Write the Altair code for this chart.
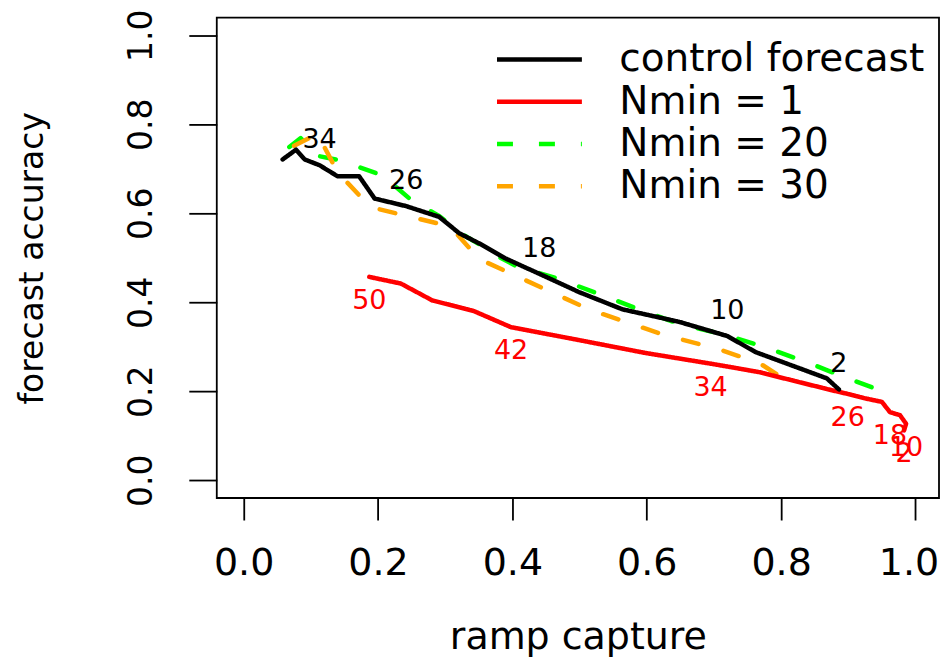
import altair as alt
import pandas as pd

# ---- data ----
series_names = ["control forecast", "Nmin = 1", "Nmin = 20", "Nmin = 30"]
series_colors = ["#000000", "#FF0000", "#00FF00", "#FFA500"]
series_dash = [[1, 0], [1, 0], [16, 26], [16, 26]]
tick_values = [0.0, 0.2, 0.4, 0.6, 0.8, 1.0]

ctrl_x = [0.058, 0.078, 0.091, 0.113, 0.140, 0.172, 0.195, 0.242, 0.291, 0.321,
          0.351, 0.389, 0.440, 0.499, 0.564, 0.648, 0.720, 0.762, 0.868, 0.886]
ctrl_y = [0.721, 0.743, 0.721, 0.708, 0.683, 0.683, 0.633, 0.616, 0.592, 0.555,
          0.532, 0.499, 0.464, 0.423, 0.384, 0.356, 0.324, 0.288, 0.229, 0.204]
ctrl_lab = ["", "", "", "34", "", "", "", "26", "", "",
            "", "", "18", "", "", "", "10", "", "", "2"]

n1_x = [0.187, 0.234, 0.281, 0.343, 0.398, 0.499, 0.598, 0.695, 0.722, 0.767,
        0.876, 0.899, 0.925, 0.950, 0.962, 0.977, 0.986, 0.983]
n1_y = [0.457, 0.442, 0.404, 0.380, 0.344, 0.315, 0.286, 0.262, 0.255, 0.243,
        0.202, 0.194, 0.184, 0.176, 0.153, 0.146, 0.127, 0.112]
n1_lab = ["50", "", "", "", "42", "", "", "34", "", "",
          "", "26", "", "", "18", "", "10", "2"]

n20_x = [0.068, 0.085, 0.107, 0.143, 0.207, 0.250, 0.292, 0.321, 0.351, 0.381,
         0.406, 0.470, 0.530, 0.592, 0.649, 0.719, 0.780, 0.842, 0.899, 0.935, 0.961]
n20_y = [0.749, 0.769, 0.730, 0.719, 0.685, 0.629, 0.593, 0.557, 0.530, 0.501,
         0.481, 0.452, 0.418, 0.382, 0.351, 0.326, 0.297, 0.263, 0.229, 0.209, 0.187]

n30_x = [0.075, 0.110, 0.140, 0.176, 0.202, 0.295, 0.310, 0.339, 0.348,
         0.514, 0.623, 0.708, 0.768, 0.807]
n30_y = [0.752, 0.778, 0.692, 0.634, 0.609, 0.575, 0.566, 0.517, 0.499,
         0.384, 0.328, 0.294, 0.263, 0.225]

# ---- tables ----
def frame(name, xs, ys, labs=None):
    return pd.DataFrame({
        "series": name,
        "i": list(range(len(xs))),
        "x": xs,
        "y": ys,
        "lab": labs if labs is not None else [""] * len(xs),
    })

# drawing order: green, orange, red, black on top
lines_df = pd.concat([
    frame(series_names[2], n20_x, n20_y),
    frame(series_names[3], n30_x, n30_y),
    frame(series_names[1], n1_x, n1_y, n1_lab),
    frame(series_names[0], ctrl_x, ctrl_y, ctrl_lab),
], ignore_index=True)

ctrl_lab_df = frame(series_names[0], ctrl_x, ctrl_y, ctrl_lab)
ctrl_lab_df = ctrl_lab_df[ctrl_lab_df["lab"] != ""]
n1_lab_df = frame(series_names[1], n1_x, n1_y, n1_lab)
n1_lab_df = n1_lab_df[n1_lab_df["lab"] != ""]

FONT = "DejaVu Sans"
W, H = 723, 481

x_enc = alt.X(
    "x:Q",
    scale=alt.Scale(domain=[-0.04, 1.035], nice=False, zero=False),
    axis=alt.Axis(
        values=tick_values, format=".1f", title="ramp capture",
        tickSize=22, labelPadding=55, labelBaseline="alphabetic",
        labelFontSize=38, titleFontSize=38,
        labelOffset={"condition": {"test": "datum.value >= 1", "value": -7}, "value": 0},
        titleY=151, titleBaseline="alphabetic",
        labelFlush=False, labelOverlap=False, domain=False, grid=False,
    ),
)
y_enc = alt.Y(
    "y:Q",
    scale=alt.Scale(domain=[-0.04, 1.04], nice=False, zero=False),
    axis=alt.Axis(
        values=tick_values, format=".1f", title="forecast accuracy",
        tickSize=28, labelPadding=37, labelAngle=270,
        labelAlign="center", labelBaseline="alphabetic",
        labelFontSize=33, titleFontSize=33,
        titleAngle=270, titleX=-174, titleY=H / 2,
        titleAlign="center", titleBaseline="alphabetic",
        labelFlush=False, labelOverlap=False, domain=False, grid=False,
    ),
)

leg = alt.Legend(
    title=None, orient="none", legendX=278, legendY=21,
    symbolType="stroke", symbolSize=7225, symbolStrokeWidth=4.5,
    labelFontSize=39, labelFont=FONT, labelColor="black",
    labelOffset=35, clipHeight=42, rowPadding=0.3, padding=0,
    labelLimit=600,
)

lines = alt.Chart(lines_df).mark_line(
    strokeWidth=4.5, strokeCap="round", strokeJoin="round"
).encode(
    x=x_enc,
    y=y_enc,
    color=alt.Color("series:N", scale=alt.Scale(domain=series_names, range=series_colors), legend=leg),
    strokeDash=alt.StrokeDash("series:N", scale=alt.Scale(domain=series_names, range=series_dash), legend=leg),
    order=alt.Order("i:Q"),
)

ctrl_text = alt.Chart(ctrl_lab_df).mark_text(
    dy=-25, fontSize=27, font=FONT, color="black"
).encode(x=x_enc, y=y_enc, text="lab:N")

n1_text = alt.Chart(n1_lab_df).mark_text(
    dy=24, fontSize=27, font=FONT, color="#FF0000"
).encode(x=x_enc, y=y_enc, text="lab:N")

chart = alt.layer(lines, ctrl_text, n1_text).properties(
    width=W, height=H,
    autosize=alt.AutoSizeParams(type="none"),
    padding={"left": 209, "top": 9.2, "right": 1, "bottom": 160},
    background="white",
).configure_view(
    stroke="black", strokeWidth=1.8
).configure_axis(
    labelFont=FONT, titleFont=FONT, titleFontWeight="normal",
    labelColor="black", titleColor="black", tickColor="black", tickWidth=1.8,
)

chart.save("out.html", embed_options={"renderer": "svg", "actions": False})
